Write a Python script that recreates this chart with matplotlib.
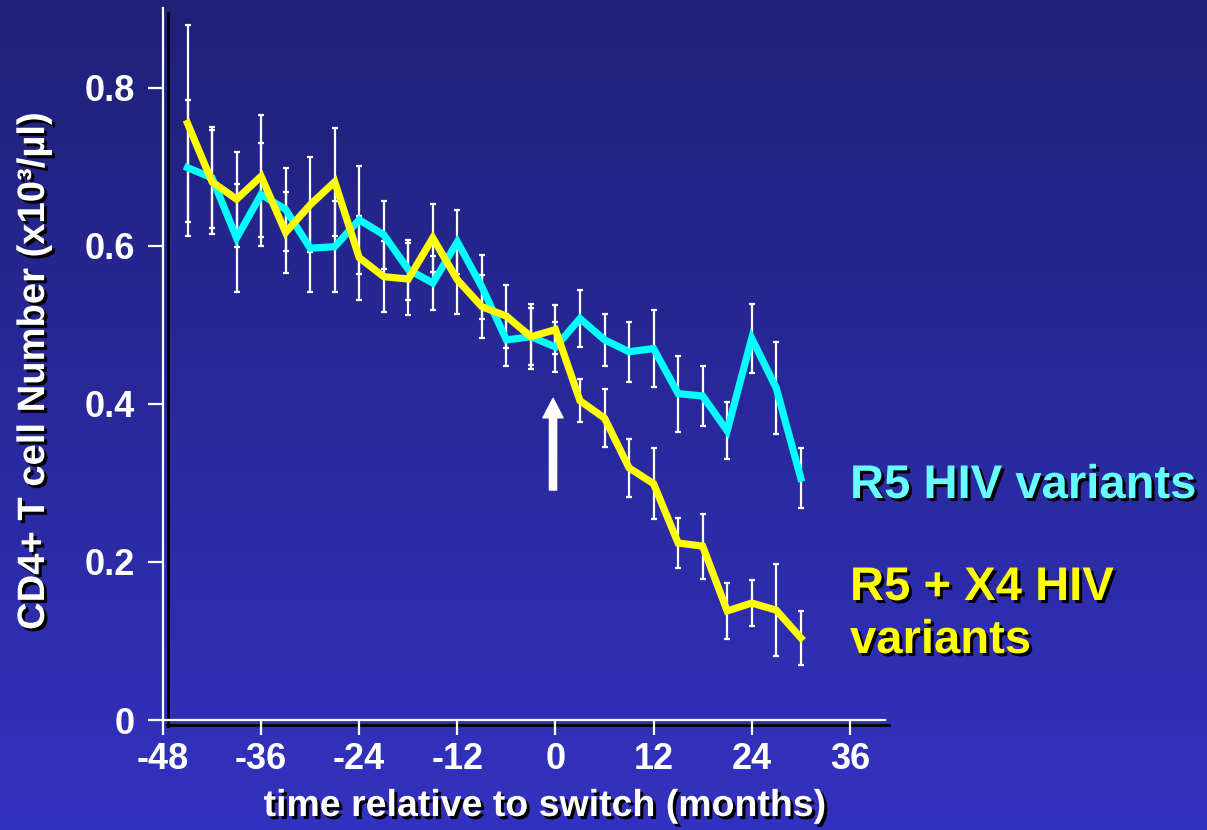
import numpy as np
import matplotlib
matplotlib.use("Agg")
import matplotlib.pyplot as plt
import matplotlib.patheffects as pe
from matplotlib.lines import Line2D

months = [-45, -42, -39, -36, -33, -30, -27, -24, -21, -18, -15, -12, -9,
          -6, -3, 0, 3, 6, 9, 12, 15, 18, 21, 24, 27, 30]
r5 = [0.699, 0.686, 0.610, 0.665, 0.646, 0.597, 0.599, 0.633, 0.614, 0.570,
      0.553, 0.605, 0.548, 0.481, 0.485, 0.472, 0.508, 0.481, 0.466, 0.470,
      0.413, 0.410, 0.366, 0.483, 0.420, 0.306]
r5_err = [0.086, 0.064, 0.068, 0.065, 0.053, 0.056, 0.058, 0.068, 0.043, 0.038,
          0.034, 0.041, 0.041, 0.033, 0.041, 0.032, 0.036, 0.033, 0.038, 0.049,
          0.048, 0.038, 0.036, 0.044, 0.058, 0.038]
x4 = [0.755, 0.681, 0.659, 0.688, 0.617, 0.652, 0.681, 0.585, 0.561, 0.558,
      0.610, 0.557, 0.523, 0.511, 0.485, 0.494, 0.404, 0.382, 0.319, 0.299,
      0.224, 0.220, 0.138, 0.148, 0.139, 0.104]
x4_err = [0.125, 0.066, 0.060, 0.077, 0.051, 0.060, 0.068, 0.053, 0.045, 0.046,
          0.043, 0.043, 0.040, 0.040, 0.036, 0.031, 0.027, 0.037, 0.037, 0.045,
          0.032, 0.041, 0.035, 0.029, 0.058, 0.034]
xticks = [-48, -36, -24, -12, 0, 12, 24, 36]
yticks = [0, 0.2, 0.4, 0.6, 0.8]
ytick_labels = ["0", "0.2", "0.4", "0.6", "0.8"]

W, H = 1207, 830
fig = plt.figure(figsize=(W / 100, H / 100), dpi=100)

# gradient background
bg = fig.add_axes([0, 0, 1, 1], zorder=-10)
top = np.array([32, 32, 120]) / 255
bot = np.array([50, 50, 192]) / 255
t = np.linspace(0, 1, 256)[:, None]
grad = top[None, :] * (1 - t) + bot[None, :] * t
bg.imshow(grad[:, None, :], aspect="auto", extent=[0, 1, 0, 1])
bg.set_xlim(0, 1)
bg.set_ylim(0, 1)
bg.axis("off")

# black drop shadow of the axis lines
bg.add_line(Line2D([168 / W, 168 / W], [1 - 13 / H, 1 - 726 / H], color="black", lw=2.0))
bg.add_line(Line2D([167 / W, 889 / W], [1 - 725 / H, 1 - 725 / H], color="black", lw=2.0))

ax = fig.add_axes([163 / W, 1 - 720 / H, (885 - 163) / W, (720 - 8) / H])
ax.patch.set_alpha(0)

ax.errorbar(months, r5, yerr=r5_err, fmt="none", ecolor="white", elinewidth=1.6,
            capsize=2.2, capthick=1.6, zorder=2)
ax.errorbar(months, x4, yerr=x4_err, fmt="none", ecolor="white", elinewidth=1.6,
            capsize=2.2, capthick=1.6, zorder=2)
ax.plot(months, r5, color="#00FFFF", lw=5.2, zorder=3, solid_joinstyle="miter")
ax.plot(months, x4, color="#FFFF00", lw=5.2, zorder=4, solid_joinstyle="miter")

ax.annotate("", xy=(-0.3, 0.407), xytext=(-0.3, 0.291),
            arrowprops=dict(arrowstyle="simple,head_width=1.45,head_length=1.4,tail_width=0.52",
                            color="white", shrinkA=0, shrinkB=0, mutation_scale=10),
            zorder=5)

ax.set_xlim(-48, 40.3)
ax.set_ylim(0, 0.901)
for s in ["top", "right"]:
    ax.spines[s].set_visible(False)
for s in ["left", "bottom"]:
    ax.spines[s].set_color("white")
    ax.spines[s].set_linewidth(1.6)

font = "Liberation Sans"
ax.set_xticks(xticks)
ax.set_xticklabels([str(v) for v in xticks], fontsize=26, fontweight="bold",
                   color="white", family=font)
ax.set_yticks(yticks)
ax.set_yticklabels(ytick_labels, fontsize=26, fontweight="bold",
                   color="white", family=font)
ax.tick_params(axis="both", direction="out", length=11, width=1.6, color="white")
ax.tick_params(axis="y", pad=9)
ax.tick_params(axis="x", pad=5)

txt_shadow = [pe.withSimplePatchShadow(offset=(2.2, -2.2), shadow_rgbFace="black", alpha=1)]

fig.text(545 / W, 1 - 806 / H, "time relative to switch (months)", ha="center", va="center",
         fontsize=27, fontweight="bold", color="white",
         family=["Liberation Sans Narrow", "Liberation Sans"], path_effects=txt_shadow)
fig.text(34 / W, 1 - 371 / H, "CD4+ T cell Number (x10³/µl)", ha="center", va="center",
         rotation=90, fontsize=27.5, fontweight="bold", color="white", family=font,
         path_effects=txt_shadow)

fig.text(850 / W, 1 - 498 / H, "R5 HIV variants", ha="left", va="baseline",
         fontsize=34, fontweight="bold", color="#66FFFF", family=font, path_effects=txt_shadow)
fig.text(850 / W, 1 - 600 / H, "R5 + X4 HIV", ha="left", va="baseline",
         fontsize=34, fontweight="bold", color="#FFFF00", family=font, path_effects=txt_shadow)
fig.text(850 / W, 1 - 653 / H, "variants", ha="left", va="baseline",
         fontsize=34, fontweight="bold", color="#FFFF00", family=font, path_effects=txt_shadow)

fig.savefig("out.png", dpi=100)
